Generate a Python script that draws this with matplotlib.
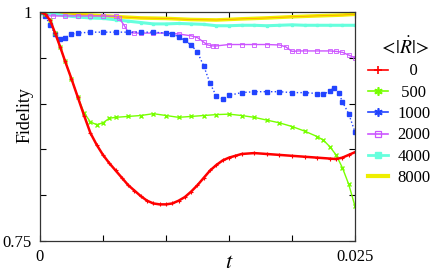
import matplotlib
matplotlib.use('Agg')
import matplotlib.pyplot as plt
from matplotlib.lines import Line2D
import matplotlib.patheffects as pe

plt.rcParams['font.family'] = ['Liberation Serif', 'DejaVu Serif']
plt.rcParams['mathtext.fontset'] = 'stix'

# values
t_red = [0, 0.0004, 0.0008, 0.0012, 0.0016, 0.002, 0.0025, 0.003, 0.0035, 0.004,
         0.0045, 0.005, 0.0055, 0.006, 0.0065, 0.007, 0.0075, 0.008, 0.0085, 0.009,
         0.0095, 0.010, 0.0105, 0.011, 0.0115, 0.012, 0.0125, 0.013, 0.0135, 0.014,
         0.0145, 0.015, 0.0155, 0.016, 0.017, 0.018, 0.019, 0.020, 0.021, 0.022,
         0.023, 0.0235, 0.024, 0.0245, 0.025]
f_red = [1.0, 0.998, 0.991, 0.977, 0.962, 0.946, 0.927, 0.907, 0.887, 0.868,
         0.855, 0.844, 0.835, 0.827, 0.819, 0.811, 0.805, 0.799, 0.794, 0.791,
         0.790, 0.790, 0.791, 0.794, 0.798, 0.804, 0.811, 0.819, 0.827, 0.833,
         0.838, 0.841, 0.843, 0.845, 0.846, 0.845, 0.844, 0.843, 0.842, 0.841,
         0.840, 0.8395, 0.841, 0.844, 0.847]

t_green = [0, 0.0004, 0.0008, 0.0012, 0.0016, 0.002, 0.0025, 0.003, 0.0035, 0.004,
           0.0045, 0.005, 0.0055, 0.006, 0.007, 0.008, 0.009, 0.010, 0.011, 0.012,
           0.013, 0.014, 0.015, 0.016, 0.017, 0.018, 0.019, 0.020, 0.021, 0.022,
           0.0225, 0.023, 0.0235, 0.024, 0.0245, 0.025]
f_green = [1.0, 0.998, 0.991, 0.977, 0.962, 0.946, 0.927, 0.907, 0.890, 0.880,
           0.877, 0.879, 0.884, 0.885, 0.886, 0.887, 0.889, 0.887, 0.885, 0.886,
           0.887, 0.888, 0.8885, 0.887, 0.885, 0.882, 0.879, 0.875, 0.870, 0.864,
           0.860, 0.853, 0.844, 0.830, 0.812, 0.788]

t_blue = [0, 0.0004, 0.0008, 0.0012, 0.0016, 0.002, 0.0025, 0.003, 0.004, 0.005,
          0.006, 0.007, 0.008, 0.009, 0.010, 0.0105, 0.011, 0.0115, 0.012, 0.0125,
          0.013, 0.0135, 0.014, 0.0145, 0.015, 0.016, 0.017, 0.018, 0.019, 0.020,
          0.021, 0.022, 0.0225, 0.023, 0.0233, 0.0237, 0.024, 0.0245, 0.025]
f_blue = [1.0, 0.996, 0.986, 0.976, 0.971, 0.972, 0.976, 0.977, 0.978, 0.978,
          0.978, 0.978, 0.978, 0.978, 0.977, 0.976, 0.973, 0.969, 0.964, 0.956,
          0.941, 0.922, 0.908, 0.905, 0.909, 0.912, 0.913, 0.913, 0.913, 0.912,
          0.912, 0.911, 0.910, 0.914, 0.917, 0.912, 0.902, 0.889, 0.869]

t_violet = [0, 0.0005, 0.001, 0.002, 0.003, 0.004, 0.005, 0.006, 0.0063, 0.0067,
            0.007, 0.0075, 0.008, 0.009, 0.010, 0.011, 0.012, 0.0125, 0.013, 0.0133,
            0.0137, 0.014, 0.015, 0.016, 0.017, 0.018, 0.019, 0.0195, 0.020, 0.0205,
            0.021, 0.022, 0.023, 0.0235, 0.024, 0.0245, 0.025]
f_violet = [1.0, 0.996, 0.9957, 0.9957, 0.9957, 0.9957, 0.9956, 0.9955, 0.993, 0.985,
            0.978, 0.977, 0.977, 0.977, 0.977, 0.976, 0.974, 0.972, 0.967, 0.964,
            0.963, 0.963, 0.9645, 0.9645, 0.9645, 0.9645, 0.964, 0.962, 0.957, 0.9575,
            0.9575, 0.9575, 0.9575, 0.957, 0.956, 0.953, 0.950]

t_cyan = [0, 0.001, 0.002, 0.003, 0.004, 0.005, 0.006, 0.007, 0.008, 0.009, 0.010,
          0.011, 0.012, 0.013, 0.014, 0.015, 0.016, 0.017, 0.018, 0.019, 0.020,
          0.021, 0.022, 0.023, 0.024, 0.025]
f_cyan = [1.0, 0.998, 0.996, 0.9945, 0.9935, 0.993, 0.9915, 0.990, 0.9885, 0.987, 0.987,
          0.9875, 0.987, 0.9865, 0.985, 0.985, 0.9855, 0.9855, 0.985, 0.9855, 0.986,
          0.9855, 0.9855, 0.9855, 0.9855, 0.9855]

t_yellow = [0, 0.002, 0.004, 0.006, 0.008, 0.010, 0.012, 0.014, 0.016, 0.018,
            0.020, 0.022, 0.024, 0.025]
f_yellow = [1.0, 0.998, 0.9967, 0.995, 0.9935, 0.993, 0.9918, 0.9913, 0.9925, 0.9935,
            0.9948, 0.9958, 0.9967, 0.9975]

labels = ['0', '500', '1000', '2000', '4000', '8000']

fig = plt.figure(figsize=(4.36, 2.74), dpi=100)
ax = fig.add_axes([0.0917, 0.1204, 0.7225, 0.8358])

ax.plot(t_yellow, f_yellow, color='#ffee00', lw=0.6,
        path_effects=[pe.Stroke(linewidth=2.6, foreground='#f0f000'), pe.Normal()])
ax.plot(t_yellow, f_yellow, color='#ff9900', lw=0.5)
ax.plot(t_cyan, f_cyan, color='#66ffdd', lw=2.2, marker='s', ms=2)
ax.plot(t_violet, f_violet, color='#cc55ff', lw=1, marker='s', ms=3, mfc='none', mew=0.6)
ax.plot(t_blue, f_blue, color='#2244ff', lw=1, ls=':', marker='s', ms=2.4)
ax.plot(t_green, f_green, color='#77ff00', lw=1, marker='x', ms=3, mew=1)
ax.plot(t_red, f_red, color='#ff0000', lw=1.8, marker='+', ms=3, mew=0.8)

ax.set_xlim(0, 0.025)
ax.set_ylim(0.75, 1.0)
ax.set_xticks([0, 0.005, 0.01, 0.015, 0.02, 0.025])
ax.set_xticklabels(['0', '', '', '', '', '0.025'])
ax.set_yticks([0.75, 0.8, 0.85, 0.9, 0.95, 1.0])
ax.set_yticklabels(['0.75', '', '', '', '', '1'])
ax.tick_params(direction='in', top=True, right=True, length=4, labelsize=12, pad=6)
for s in ax.spines.values():
    s.set_linewidth(0.9)
    s.set_color('#333333')

ax.set_xlabel('$t$', fontsize=16)
ax.xaxis.set_label_coords(0.6, -0.055)
ax.set_ylabel('Fidelity', fontsize=13)
ax.yaxis.set_label_coords(-0.022, 0.55)

handles = [
    Line2D([], [], color='#ff0000', lw=1.2, marker='+', ms=6, mew=1.2),
    Line2D([], [], color='#77ff00', lw=1.2, marker=(6, 2, 0), ms=6, mew=1.2),
    Line2D([], [], color='#2244ff', lw=1.2, marker=(6, 2, 0), ms=6, mew=1.2),
    Line2D([], [], color='#cc55ff', lw=1.2, marker='s', ms=5, mfc='none', mew=0.9),
    Line2D([], [], color='#66ffdd', lw=2, marker='s', ms=4.5),
    Line2D([], [], color='#eeee00', lw=3),
]
pad = ['\u2002\u2005', '\u2005', '', '', '', '']
leg_labels = [p + l for p, l in zip(pad, labels)]
leg = ax.legend(handles, leg_labels, title=r'$<\!|\dot{R}|\!>$', loc='upper left',
                bbox_to_anchor=(0.844, 0.866), bbox_transform=fig.transFigure,
                frameon=False, fontsize=12, handlelength=1.2, handletextpad=0.55,
                labelspacing=0.32, borderpad=0, borderaxespad=0, title_fontsize=14,
                alignment='right')

fig.savefig('out.png', dpi=100)
